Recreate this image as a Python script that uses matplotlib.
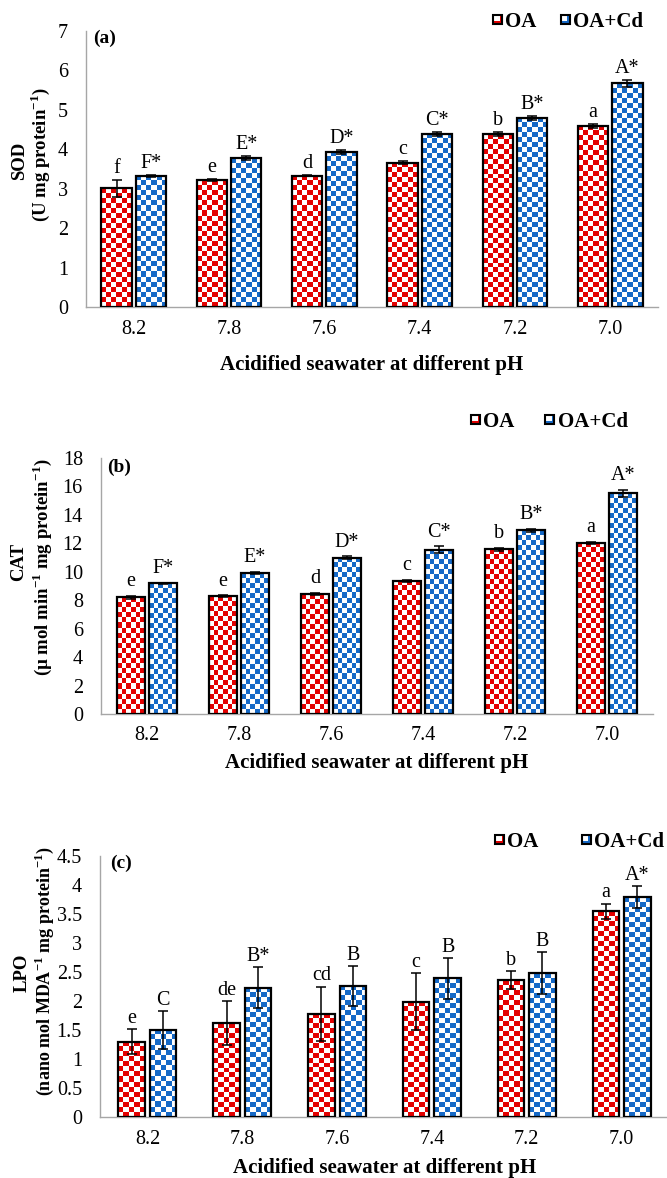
import matplotlib
matplotlib.use("Agg")
import matplotlib.pyplot as plt
import numpy as np
from matplotlib.colors import ListedColormap
from matplotlib.legend_handler import HandlerBase
from matplotlib.patches import Rectangle

plt.rcParams["font.family"] = ["Liberation Serif", "DejaVu Serif"]
plt.rcParams["mathtext.fontset"] = "custom"
plt.rcParams["mathtext.rm"] = "Liberation Serif"
plt.rcParams["mathtext.bf"] = "Liberation Serif:bold"

W, H, DPI = 667, 1178, 100
RED = "#E30000"
BLUE = "#1569C7"
SPINE = "#A6A6A6"

ph_levels = ["8.2", "7.8", "7.6", "7.4", "7.2", "7.0"]
series_names = ["OA", "OA+Cd"]

sod_oa = [3.01, 3.22, 3.33, 3.66, 4.38, 4.60]
sod_oa_err = [0.21, 0.02, 0.02, 0.04, 0.05, 0.05]
sod_cd = [3.33, 3.77, 3.94, 4.39, 4.80, 5.67]
sod_cd_err = [0.03, 0.05, 0.05, 0.05, 0.05, 0.09]
sod_oa_letters = ["f", "e", "d", "c", "b", "a"]
sod_cd_letters = ["F*", "E*", "D*", "C*", "B*", "A*"]

cat_oa = [8.22, 8.29, 8.43, 9.37, 11.57, 12.04]
cat_oa_err = [0.10, 0.05, 0.08, 0.08, 0.10, 0.08]
cat_cd = [9.18, 9.91, 11.00, 11.55, 12.91, 15.51]
cat_cd_err = [0.05, 0.08, 0.08, 0.23, 0.12, 0.26]
cat_oa_letters = ["e", "e", "d", "c", "b", "a"]
cat_cd_letters = ["F*", "E*", "D*", "C*", "B*", "A*"]

lpo_oa = [1.30, 1.62, 1.78, 1.99, 2.36, 3.55]
lpo_oa_err = [0.21, 0.38, 0.47, 0.49, 0.16, 0.13]
lpo_cd = [1.50, 2.23, 2.26, 2.39, 2.48, 3.79]
lpo_cd_err = [0.32, 0.35, 0.34, 0.35, 0.36, 0.19]
lpo_oa_letters = ["e", "de", "cd", "c", "b", "a"]
lpo_cd_letters = ["C", "B*", "B", "B", "B", "A*"]


class CheckerKey(HandlerBase):
    """Small white box with a coloured L inside, used as legend key."""

    def __init__(self, color):
        super().__init__()
        self.color = color

    def create_artists(self, legend, orig_handle, xdescent, ydescent,
                       width, height, fontsize, trans):
        s = min(width, height)
        x0 = -xdescent + (width - s) / 2
        y0 = -ydescent + (height - s) / 2
        t = s * 0.3
        base = Rectangle((x0, y0), s, s, facecolor="white", lw=0, transform=trans)
        low = Rectangle((x0, y0), s, t, facecolor=self.color, lw=0, transform=trans)
        side = Rectangle((x0 + s - t, y0), t, s, facecolor=self.color, lw=0, transform=trans)
        edge = Rectangle((x0, y0), s, s, facecolor="none", edgecolor="black",
                         lw=1.5, transform=trans)
        return [base, low, side, edge]


def px_axes(fig, left, top, right, bottom):
    return fig.add_axes([left / W, 1 - bottom / H, (right - left) / W, (bottom - top) / H])


def checker_bars(ax, xs, values, color, width, cell_px=5.0):
    bars = ax.bar(xs, values, width, facecolor="none", edgecolor="black",
                  linewidth=1.6, zorder=3)
    cmap = ListedColormap(["white", color])
    for bar in bars:
        x0, w, h = bar.get_x(), bar.get_width(), bar.get_height()
        (px0, py0), (px1, py1) = ax.transData.transform([(x0, 0), (x0 + w, h)])
        nx = max(1, round((px1 - px0) / cell_px))
        ny = max(1, round((py1 - py0) / cell_px))
        board = np.indices((ny, nx)).sum(axis=0) % 2
        im = ax.imshow(board, cmap=cmap, extent=(x0, x0 + w, 0, h), origin="lower",
                       interpolation="nearest", aspect="auto", zorder=2)
        im.set_clip_path(bar)
    return bars


def draw_panel(fig, box, ymax, ystep, oa, oa_err, cd, cd_err, oa_lab, cd_lab,
               bar_w, offset, letter_pad, tag, tag_xy, name, unit, name_xy, unit_xy,
               unit_size, xlabel_y, legend_xy, col_space):
    ax = px_axes(fig, *box)
    x = np.arange(len(ph_levels))
    ax.set_xlim(-0.5, len(ph_levels) - 0.5)
    ax.set_ylim(0, ymax)
    ax.set_autoscale_on(False)

    oa_bars = checker_bars(ax, x - offset, oa, RED, bar_w)
    cd_bars = checker_bars(ax, x + offset, cd, BLUE, bar_w)
    ax.errorbar(x - offset, oa, yerr=oa_err, fmt="none", ecolor="black",
                elinewidth=1.1, capsize=3.5, capthick=1.1, zorder=4)
    ax.errorbar(x + offset, cd, yerr=cd_err, fmt="none", ecolor="black",
                elinewidth=1.1, capsize=3.5, capthick=1.1, zorder=4)

    # significance letters sit just above each error bar
    for xs, vals, errs, labs in ((x - offset, oa, oa_err, oa_lab),
                                 (x + offset, cd, cd_err, cd_lab)):
        for xi, v, e, lab in zip(xs, vals, errs, labs):
            ax.annotate(lab, (xi, v + e), xytext=(0, letter_pad), textcoords="offset points",
                        ha="center", va="baseline", fontsize=14.5)

    ticks = np.arange(0, ymax + ystep / 2, ystep)
    ax.set_yticks(ticks)
    ax.set_yticklabels([f"{t:g}" for t in ticks])
    ax.set_xticks(x)
    ax.set_xticklabels(ph_levels)
    ax.tick_params(axis="both", length=0, labelsize=14.5)
    ax.tick_params(axis="y", pad=13)
    ax.tick_params(axis="x", pad=9)
    for side in ("top", "right"):
        ax.spines[side].set_visible(False)
    for side in ("left", "bottom"):
        ax.spines[side].set_color(SPINE)
        ax.spines[side].set_linewidth(1.0)

    fig.text(tag_xy[0] / W, 1 - tag_xy[1] / H, tag,
             fontsize=14, fontweight="bold", ha="left", va="center")
    fig.text(name_xy[0] / W, 1 - name_xy[1] / H, name, rotation=90, fontsize=13.5,
             fontweight="bold", ha="center", va="center")
    fig.text(unit_xy[0] / W, 1 - unit_xy[1] / H, unit, rotation=90, fontsize=unit_size,
             fontweight="bold", ha="center", va="center")
    fig.text((box[0] + box[2]) / 2 / W, 1 - xlabel_y / H, "Acidified seawater at different pH",
             fontsize=15, fontweight="bold", ha="center", va="center")

    ax.legend([oa_bars, cd_bars], series_names,
              handler_map={oa_bars: CheckerKey(RED), cd_bars: CheckerKey(BLUE)},
              loc="center left", bbox_to_anchor=(legend_xy[0] / W, 1 - legend_xy[1] / H),
              bbox_transform=fig.transFigure, ncol=2, frameon=False,
              prop={"size": 15, "weight": "bold"}, handlelength=0.45, handleheight=0.45,
              handletextpad=0.15, columnspacing=col_space, borderpad=0, borderaxespad=0)
    return ax


fig = plt.figure(figsize=(W / DPI, H / DPI), dpi=DPI)

draw_panel(fig, (86, 31, 658, 307), 7, 1, sod_oa, sod_oa_err, sod_cd, sod_cd_err,
           sod_oa_letters, sod_cd_letters, 0.32, 0.18, 5,
           "(a)", (93, 38), "SOD", r"(U mg protein$^{\mathbf{-1}}$)", (20, 161), (40, 155),
           13.5, 365, (493, 22), 1.15)

draw_panel(fig, (101, 458, 653, 714), 18, 2, cat_oa, cat_oa_err, cat_cd, cat_cd_err,
           cat_oa_letters, cat_cd_letters, 0.30, 0.174, 7,
           "(b)", (107, 467), "CAT",
           r"(µ mol min$^{\mathbf{-1}}$ mg protein$^{\mathbf{-1}}$)", (19, 562), (42, 567),
           13.5, 763, (471, 422), 1.45)

draw_panel(fig, (100, 856, 669, 1117), 4.5, 0.5, lpo_oa, lpo_oa_err, lpo_cd, lpo_cd_err,
           lpo_oa_letters, lpo_cd_letters, 0.28, 0.166, 4.5,
           "(c)", (110, 863), "LPO",
           r"(nano mol MDA$^{\mathbf{-1}}$ mg protein$^{\mathbf{-1}}$)", (22, 973), (44, 971),
           13, 1168, (495, 842), 2.05)

fig.savefig("out.png", dpi=DPI)
